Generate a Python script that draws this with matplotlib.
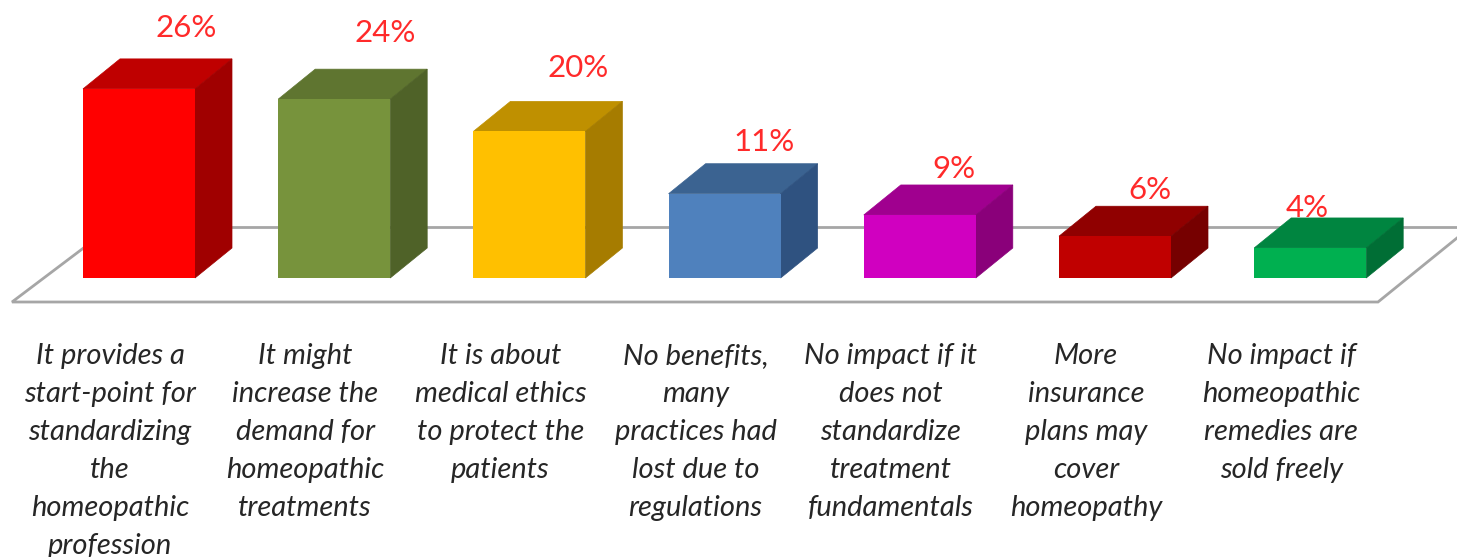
"""Pseudo-3D bar chart of opinions on regulating homeopathy."""

import matplotlib

matplotlib.use("Agg")
import matplotlib.pyplot as plt
from matplotlib.patches import Polygon

# ── data ──────────────────────────────────────────────────────────────────────
categories = [
    "It provides a\nstart-point for\nstandardizing\nthe\nhomeopathic\nprofession",
    "It might\nincrease the\ndemand for\nhomeopathic\ntreatments",
    "It is about\nmedical ethics\nto protect the\npatients",
    "No benefits,\nmany\npractices had\nlost due to\nregulations",
    "No impact if it\ndoes not\nstandardize\ntreatment\nfundamentals",
    "More\ninsurance\nplans may\ncover\nhomeopathy",
    "No impact if\nhomeopathic\nremedies are\nsold freely",
]
values = [25.8, 24.4, 20.0, 11.5, 8.6, 5.7, 4.1]
value_labels = ["26%", "24%", "20%", "11%", "9%", "6%", "4%"]

front_colors = ["#ff0000", "#77933c", "#ffc000", "#4f81bd", "#d000c0", "#c00000", "#00b050"]
top_colors = ["#bf0000", "#5f7530", "#bf9000", "#3b6391", "#a0008f", "#900000", "#008540"]
side_colors = ["#a00000", "#4f6228", "#a67c00", "#2f5280", "#8a007a", "#760000", "#006e35"]

# ── layout (px in the 1457x557 frame) ─────────────────────────────────────────
W, H = 1457, 557
x_unit, y_unit = 195.2, 7.33
x0_px, base_px = 139.0, 278.0
bar_w = 112 / x_unit
dx, dy = 37 / x_unit, 30 / y_unit
label_dx = [47, 51, 49, 39, 34, 35, -3]
label_gap = [63, 68, 65, 54, 48, 48, 42]


def px(x, y):
    """Pixel position -> data position, only for the floor and text layout."""
    return (x - x0_px) / x_unit, (base_px - y) / y_unit


fig = plt.figure(figsize=(W / 100, H / 100), dpi=100)
ax = fig.add_axes([0, 0, 1, 1])
ax.set_xlim(-x0_px / x_unit, (W - x0_px) / x_unit)
ax.set_ylim((base_px - H) / y_unit, base_px / y_unit)
ax.axis("off")

# ── floor ─────────────────────────────────────────────────────────────────────
floor = [px(112, 226.5), px(1457, 226.5), px(1457, 238), px(1378, 302), px(12, 302)]
floor_xy = [floor[0], floor[4], floor[3], floor[2]]
ax.plot(*zip(*floor_xy), color="#a6a6a6", lw=2, zorder=1, solid_joinstyle="miter")
ax.plot(*zip(floor[0], floor[1]), color="#a6a6a6", lw=2, zorder=1)

# ── bars ──────────────────────────────────────────────────────────────────────
for i, v in enumerate(values):
    left, right = i - bar_w / 2, i + bar_w / 2
    ax.add_patch(Polygon(
        [(left, v), (right, v), (right + dx, v + dy), (left + dx, v + dy)],
        color=top_colors[i], lw=0.5, zorder=3,
    ))
    ax.add_patch(Polygon(
        [(right, 0), (right + dx, dy), (right + dx, v + dy), (right, v)],
        color=side_colors[i], lw=0.5, zorder=3,
    ))
    ax.bar(i, v, width=bar_w, color=front_colors[i], zorder=4)

    # value labels sit under the bars: the 4% one is clipped by its bar top
    ax.annotate(
        value_labels[i], (i, v), xytext=(label_dx[i], label_gap[i] - 2),
        textcoords="offset pixels", ha="center", va="center",
        color="#ff2a2a", fontsize=22.5, family="Lato", zorder=2,
    )

    ax.text(
        i - 29 / x_unit, px(0, 343)[1], categories[i], ha="center", va="top",
        fontsize=21, family="Lato", style="italic", color="#262626",
        linespacing=1.57, zorder=5,
    )

fig.savefig("out.png", dpi=100)
